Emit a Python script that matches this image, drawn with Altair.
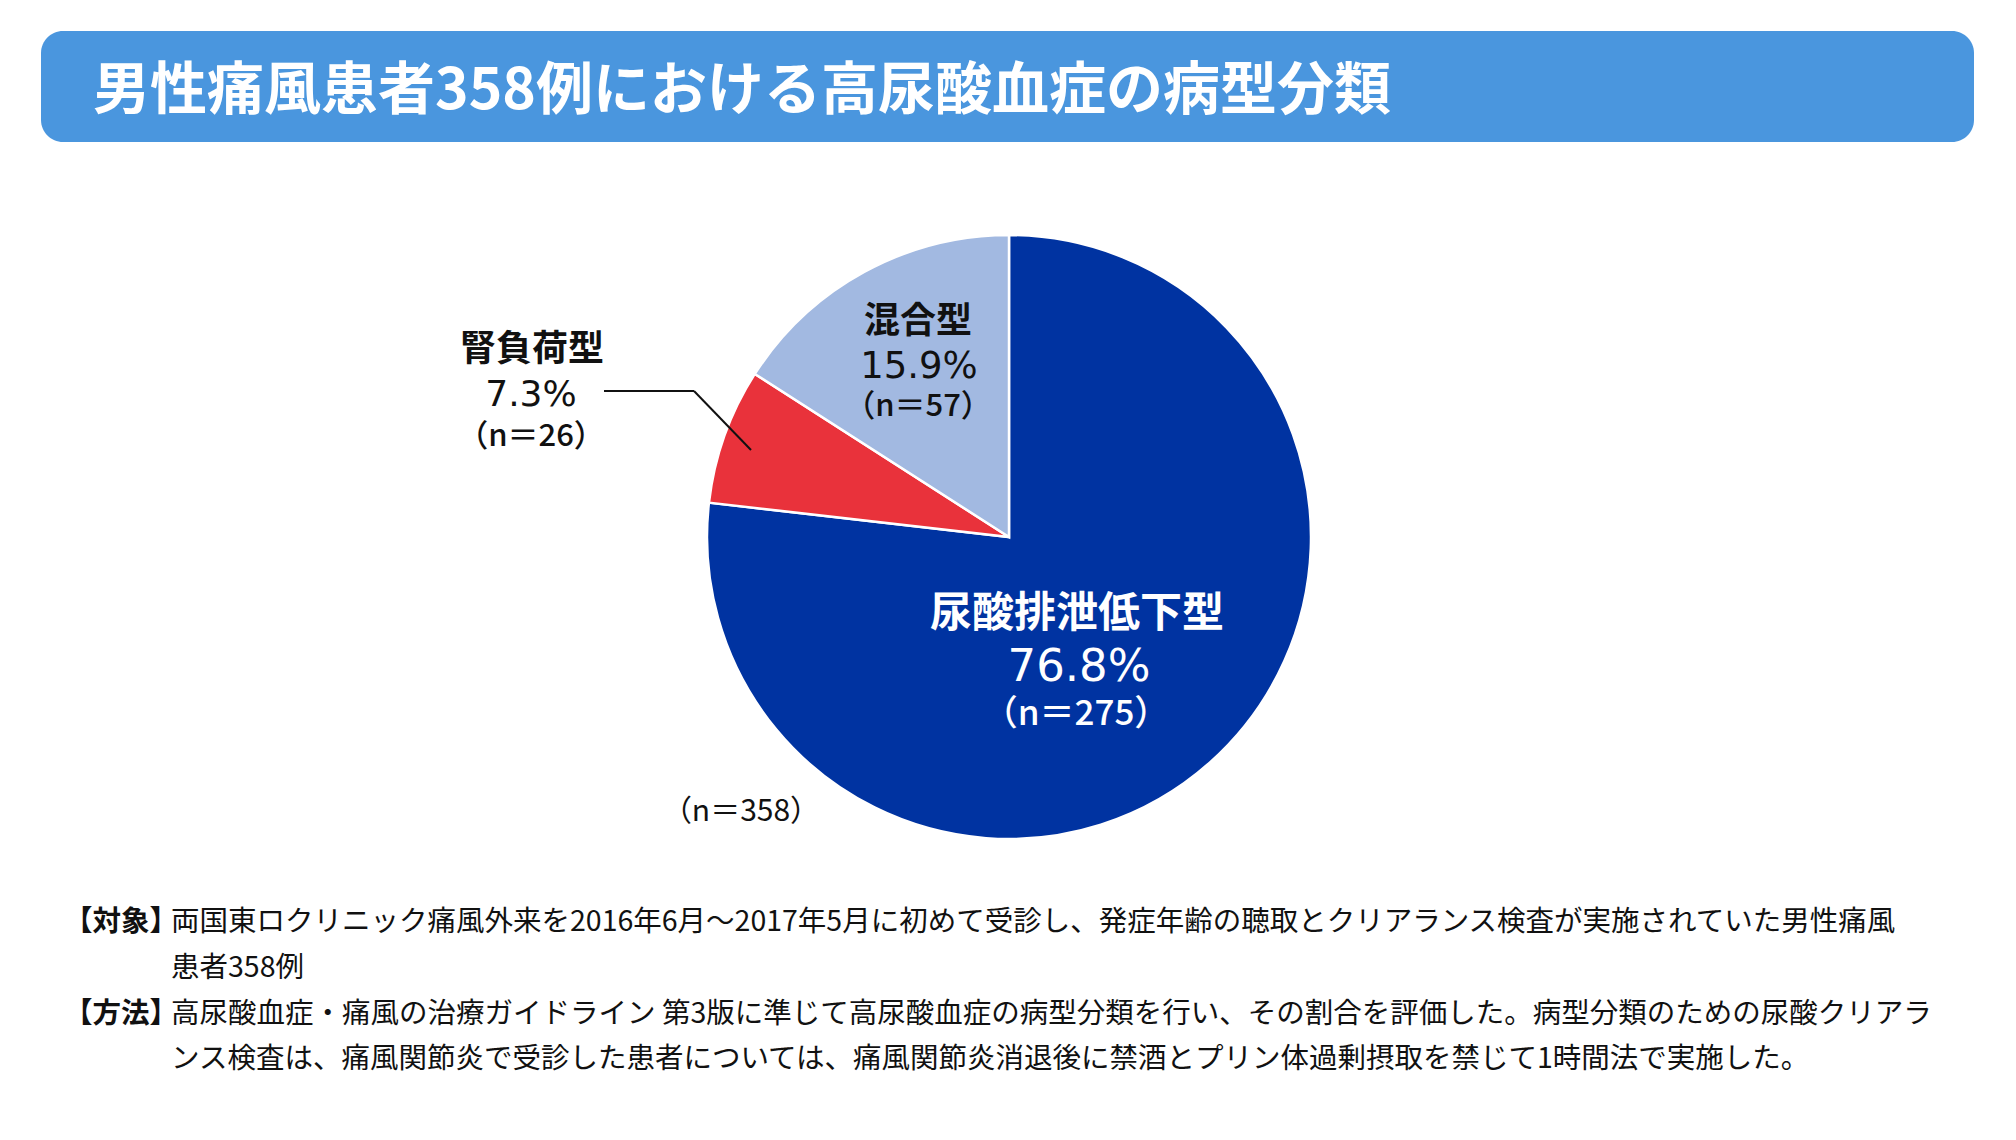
import altair as alt
import pandas as pd

# ---- data ----
categories = ["尿酸排泄低下型", "腎負荷型", "混合型"]
counts = [275, 26, 57]
percents = ["76.8%", "7.3%", "15.9%"]
n_labels = ["（n＝275）", "（n＝26）", "（n＝57）"]
total_label = "（n＝358）"
slice_colors = ["#0033A1", "#E9323B", "#A2B9E1"]
title_text = "男性痛風患者358例における高尿酸血症の病型分類"
note_heads = ["【対象】", "【方法】"]
note_lines = [
    "両国東ロクリニック痛風外来を2016年6月～2017年5月に初めて受診し、発症年齢の聴取とクリアランス検査が実施されていた男性痛風",
    "患者358例",
    "高尿酸血症・痛風の治療ガイドライン 第3版に準じて高尿酸血症の病型分類を行い、その割合を評価した。病型分類のための尿酸クリアラ",
    "ンス検査は、痛風関節炎で受診した患者については、痛風関節炎消退後に禁酒とプリン体過剰摂取を禁じて1時間法で実施した。",
]

CJK = "Noto Sans CJK JP"
LAT = "DejaVu Sans"
OFF = 8  # page margin


def px(v):
    return v - OFF


one = pd.DataFrame({"k": [0]})


def label(txt, x, y, size, weight="normal", color="#111111", font=CJK, align="center"):
    return alt.Chart(one).mark_text(
        font=font, fontSize=size, fontWeight=weight, color=color,
        align=align, baseline="middle",
    ).encode(x=alt.value(px(x)), y=alt.value(px(y) + 0.07 * size), text=alt.value(txt))


# banner
banner = alt.Chart(one).mark_rect(cornerRadius=22, color="#4A96DE").encode(
    x=alt.value(px(41)), x2=alt.value(px(1974)), y=alt.value(px(31)), y2=alt.value(px(142))
)
title = label(title_text, 93, 88, 57, weight="bold", color="white", align="left")

# pie
pie_df = pd.DataFrame({"category": categories, "count": counts, "idx": list(range(len(categories)))})
pie = alt.Chart(pie_df).mark_arc(radius=302, stroke="white", strokeWidth=2.5).encode(
    theta=alt.Theta("count:Q", stack=True),
    color=alt.Color("category:N", scale=alt.Scale(domain=categories, range=slice_colors), legend=None),
    order=alt.Order("idx:Q"),
    x=alt.value(px(1009)),
    y=alt.value(px(537)),
)

# leader line for 腎負荷型
lead1 = alt.Chart(one).mark_rule(color="#111111", strokeWidth=2).encode(
    x=alt.value(px(604)), x2=alt.value(px(694)), y=alt.value(px(391)), y2=alt.value(px(391))
)
lead2 = alt.Chart(one).mark_rule(color="#111111", strokeWidth=2).encode(
    x=alt.value(px(694)), x2=alt.value(px(751)), y=alt.value(px(391)), y2=alt.value(px(450))
)

labels = [
    label(categories[0], 1077, 611, 42, weight="bold", color="white"),
    label(percents[0], 1079, 664, 45, color="white", font=LAT),
    label(n_labels[0], 1076, 712, 35, weight=500, color="white"),
    label(categories[2], 918, 319, 36, weight="bold"),
    label(percents[2], 919, 364, 37, font=LAT),
    label(n_labels[2], 918, 405, 31, weight=500),
    label(categories[1], 532, 347, 36, weight="bold"),
    label(percents[1], 531, 392, 36, font=LAT),
    label(n_labels[1], 531, 435, 31, weight=500),
    label(total_label, 741, 810, 30),
]

notes = [
    label(note_heads[0], 178, 920, 28.5, weight="bold", align="right"),
    label(note_lines[0], 171, 920, 28.5, align="left"),
    label(note_lines[1], 171, 966, 28.5, align="left"),
    label(note_heads[1], 178, 1012, 28.5, weight="bold", align="right"),
    label(note_lines[2], 171, 1012, 28.5, align="left"),
    label(note_lines[3], 171, 1057, 28.5, align="left"),
]

chart = alt.layer(banner, title, pie, lead1, lead2, *labels, *notes).properties(
    width=1996, height=1120, padding=0, autosize="none", background="white"
).configure_view(stroke=None)

chart.save("out.html", embed_options={"renderer": "svg", "actions": False})
